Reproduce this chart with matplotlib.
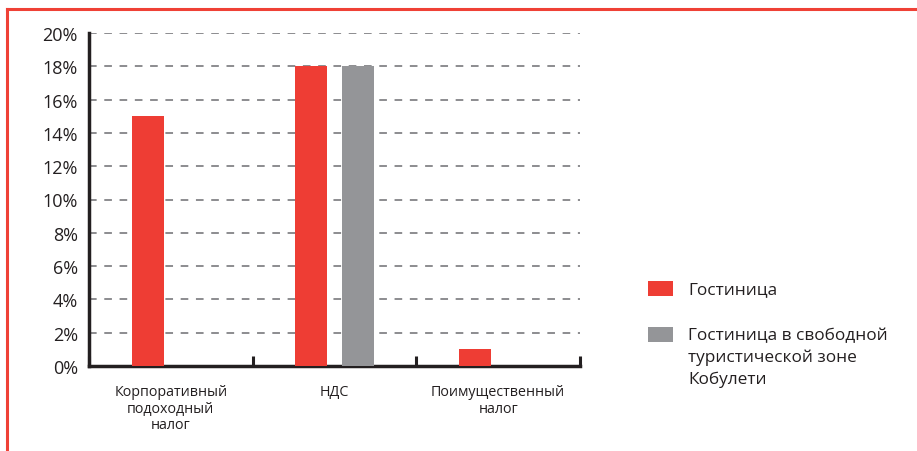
import matplotlib
matplotlib.use("Agg")
import matplotlib.pyplot as plt
from matplotlib.lines import Line2D
from matplotlib.patches import Rectangle

plt.rcParams['font.family'] = ['Open Sans', 'DejaVu Sans']

categories = ["Корпоративный\nподоходный\nналог", "НДС", "Поимущественный\nналог"]
hotel = [15, 18, 1]
free_zone = [0, 18, 0]
series_names = ["Гостиница", "Гостиница в свободной\nтуристической зоне\nКобулети"]
yticks = [0, 2, 4, 6, 8, 10, 12, 14, 16, 18, 20]
ytick_labels = [f"{v}%" for v in yticks]

red = "#EE3D34"
gray = "#949598"
txt = "#231F20"

W, H = 917, 452
fig = plt.figure(figsize=(W / 100, H / 100), dpi=100)
ax = fig.add_axes([89/W, 1 - 367/H, (580-89)/W, (367-34)/H])

x = list(range(len(categories)))
w = 0.196
off = 0.141
ax.bar([i - off for i in x], hotel, width=w, color=red, zorder=3)
ax.bar([i + off for i in x], free_zone, width=w, color=gray, zorder=3)

ax.set_xlim(-0.5, len(categories) - 0.5)
ax.set_ylim(0, 20)
ax.set_yticks(yticks)
ax.set_yticklabels(ytick_labels, fontsize=13, color=txt)
ax.tick_params(axis='y', length=0, pad=8)

ax.set_xticks(x)
ax.set_xticklabels(categories, fontsize=10.3, color=txt, linespacing=1.15)
ax.tick_params(axis='x', which='major', length=0, pad=13)
ax.set_xticks([-0.5, 0.5, 1.5, 2.5], minor=True)
ax.tick_params(axis='x', which='minor', direction='in', length=7, width=2.2, color=txt)

for y in yticks[1:]:
    ax.axhline(y, color="#6D6E71", linestyle=(0, (5, 5)), linewidth=1.1, zorder=1)

for s in ['top', 'right']:
    ax.spines[s].set_visible(False)
for s in ['left', 'bottom']:
    ax.spines[s].set_linewidth(2.5)
    ax.spines[s].set_color(txt)

# legend drawn manually so the swatch aligns with the first text line
legend_colors = [red, gray]
legend_tops = [282, 328]
for col, top, name in zip(legend_colors, legend_tops, series_names):
    fig.add_artist(Rectangle((648/W, 1 - (top + 15)/H), 25/W, 15/H,
                             facecolor=col, edgecolor='none', transform=fig.transFigure))
    fig.text(688/W, 1 - top/H, name, fontsize=12.4, color=txt, va='top', ha='left',
             linespacing=1.45)

# red frame lines (top and left)
fig.add_artist(Line2D([7/W, 1.0], [1 - 10/H, 1 - 10/H], color="#EF4136", linewidth=2.2,
                      transform=fig.transFigure))
fig.add_artist(Line2D([7/W, 7/W], [0, 1 - 10/H], color="#EF4136", linewidth=2.2,
                      transform=fig.transFigure))

fig.savefig("out.png", dpi=100)
